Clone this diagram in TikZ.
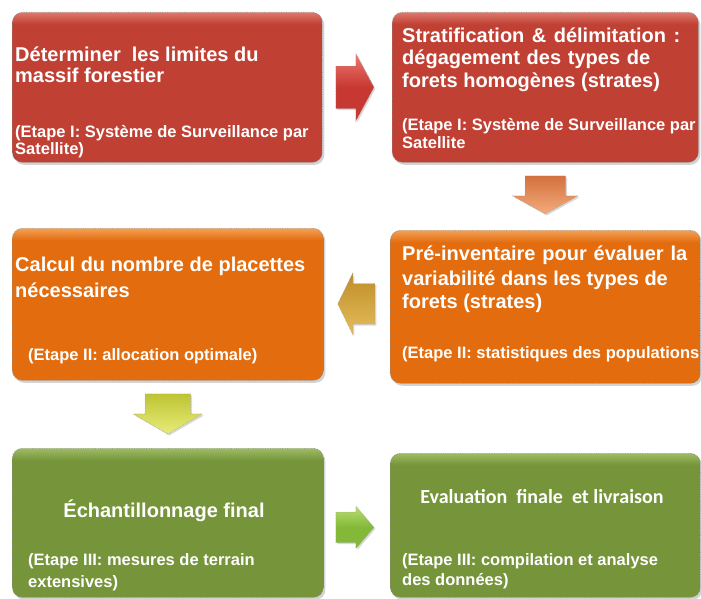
\documentclass[tikz,border=0pt]{standalone}
\usepackage{fontspec}
\setmainfont{Liberation Sans}
\newfontfamily\carlito{Carlito}
\usetikzlibrary{shapes.arrows,shadows,calc}
\definecolor{redb}{RGB}{192,64,52}
\definecolor{redt}{RGB}{222,120,108}
\definecolor{orab}{RGB}{226,108,14}
\definecolor{orat}{RGB}{244,160,84}
\definecolor{greb}{RGB}{118,148,58}
\definecolor{gret}{RGB}{158,188,100}
\definecolor{arRed}{RGB}{200,56,50}
\definecolor{arRedL}{RGB}{236,120,110}
\definecolor{arOra}{RGB}{212,112,62}
\definecolor{arOraL}{RGB}{244,172,124}
\definecolor{arTan}{RGB}{190,140,40}
\definecolor{arTanL}{RGB}{228,190,92}
\definecolor{arYel}{RGB}{190,196,50}
\definecolor{arYelL}{RGB}{232,236,122}
\definecolor{arGre}{RGB}{132,184,56}
\definecolor{arGreL}{RGB}{184,222,112}
\pgfdeclareverticalshading{redshade}{100bp}{color(0bp)=(redb); color(71bp)=(redb); color(75bp)=(redt); color(100bp)=(redt)}
\pgfdeclareverticalshading{orashade}{100bp}{color(0bp)=(orab); color(71bp)=(orab); color(75bp)=(orat); color(100bp)=(orat)}
\pgfdeclareverticalshading{greshade}{100bp}{color(0bp)=(greb); color(71bp)=(greb); color(75bp)=(gret); color(100bp)=(gret)}
\tikzset{
  boxbase/.style={rounded corners=10pt, draw=black!45, densely dotted, line width=0.7pt,
    inner sep=0pt, anchor=north west,
    drop shadow={shadow xshift=2pt, shadow yshift=-2.5pt, opacity=0.35}},
  redbox/.style={boxbase, shading=redshade},
  orabox/.style={boxbase, shading=orashade},
  grebox/.style={boxbase, shading=greshade},
  ttl/.style={font=\bfseries\fontsize{20}{22}\selectfont, text=white, inner sep=0pt, anchor=base west},
  sub/.style={font=\bfseries\fontsize{16.5}{18}\selectfont, text=white, inner sep=0pt, anchor=base west},
  blockarrow/.style={single arrow, inner xsep=0pt, single arrow head indent=0pt, anchor=tail,
    draw=black!40, densely dotted, line width=0.5pt,
    drop shadow={shadow xshift=1.5pt, shadow yshift=-1.5pt, opacity=0.3}},
}
\begin{document}
\begin{tikzpicture}[x=1pt,y=-1pt]
\useasboundingbox (0,0) rectangle (701,599);
% boxes
\node[redbox, minimum width=310pt, minimum height=150pt] (b1) at (12,12) {};
\node[redbox, minimum width=306pt, minimum height=150pt] (b2) at (392,12) {};
\node[orabox, minimum width=311pt, minimum height=152pt] (b3) at (12,228) {};
\node[orabox, minimum width=310pt, minimum height=153pt] (b4) at (390,230) {};
\node[grebox, minimum width=311pt, minimum height=149pt] (b5) at (12,448) {};
\node[grebox, minimum width=310pt, minimum height=144pt] (b6) at (390,453) {};
% arrows
\node[blockarrow, top color=arRedL, bottom color=arRed, middle color=arRed,
  inner ysep=21pt, single arrow head extend=12.5pt, single arrow tip angle=123.5,
  minimum height=38pt] (a12) at ($(b1.east)+(13,0)$) {};
\node[blockarrow, rotate=-90, top color=arOra, bottom color=arOraL,
  inner ysep=20pt, single arrow head extend=12.5pt, single arrow tip angle=122,
  minimum height=38pt] (a24) at ($(b2.south)+(0,13)$) {};
\node[blockarrow, rotate=180, top color=arTan, bottom color=arTanL,
  inner ysep=20pt, single arrow head extend=11pt, single arrow tip angle=128,
  minimum height=37pt] (a43) at ($(b4.west)+(-15,-3)$) {};
\node[blockarrow, rotate=-90, top color=arYel, bottom color=arYelL,
  inner ysep=22.5pt, single arrow head extend=12pt, single arrow tip angle=120,
  minimum height=40pt] (a35) at ($(b3.south)+(0,13)$) {};
\node[blockarrow, top color=arGreL, bottom color=arGre, middle color=arGre,
  inner ysep=15pt, single arrow head extend=6pt, single arrow tip angle=99,
  minimum height=38pt] (a56) at ($(b5.east)+(12,4.5)$) {};
% texts box 1
\node[ttl] (t1a) at (15,62) {Déterminer\ \ les limites du};
\node[ttl] (t1b) at (15,83) {massif forestier};
\node[sub] (s1a) at (15,137) {(Etape I: Système de Surveillance par};
\node[sub] (s1b) at (15,154) {Satellite)};
% box 2
\node[ttl] (t2a) at (402,43) {\makebox[278pt][s]{Stratification \& délimitation :}};
\node[ttl] (t2b) at (402,65) {\makebox[248pt][s]{dégagement des types de}};
\node[ttl] (t2c) at (402,88) {forets homogènes (strates)};
\node[sub] (s2a) at (402,131) {(Etape I: Système de Surveillance par};
\node[sub] (s2b) at (402,148) {Satellite};
% box 3
\node[ttl] (t3a) at (15,271) {Calcul du nombre de placettes};
\node[ttl] (t3b) at (15,297) {nécessaires};
\node[sub] (s3a) at (28,360) {(Etape II: allocation optimale)};
% box 4
\node[ttl] (t4a) at (402,260) {\makebox[285pt][s]{Pré-inventaire pour évaluer la}};
\node[ttl] (t4b) at (402,285) {variabilité dans les types de};
\node[ttl] (t4c) at (402,308) {forets (strates)};
\node[sub] (s4a) at (402,358) {(Etape II: statistiques des populations};
% box 5
\node[ttl, anchor=base] (t5a) at (164,517) {Échantillonnage final};
\node[sub] (s5a) at (28,565) {(Etape III: mesures de terrain};
\node[sub] (s5b) at (28,587) {extensives)};
% box 6
\node[ttl, anchor=base, font=\carlito\bfseries\fontsize{20}{22}\selectfont] (t6a) at (542,503) {Evaluation\ \ finale\ \ et livraison};
\node[sub] (s6a) at (402,565) {(Etape III: compilation et analyse};
\node[sub] (s6b) at (402,585) {des données)};
\end{tikzpicture}
\end{document}
